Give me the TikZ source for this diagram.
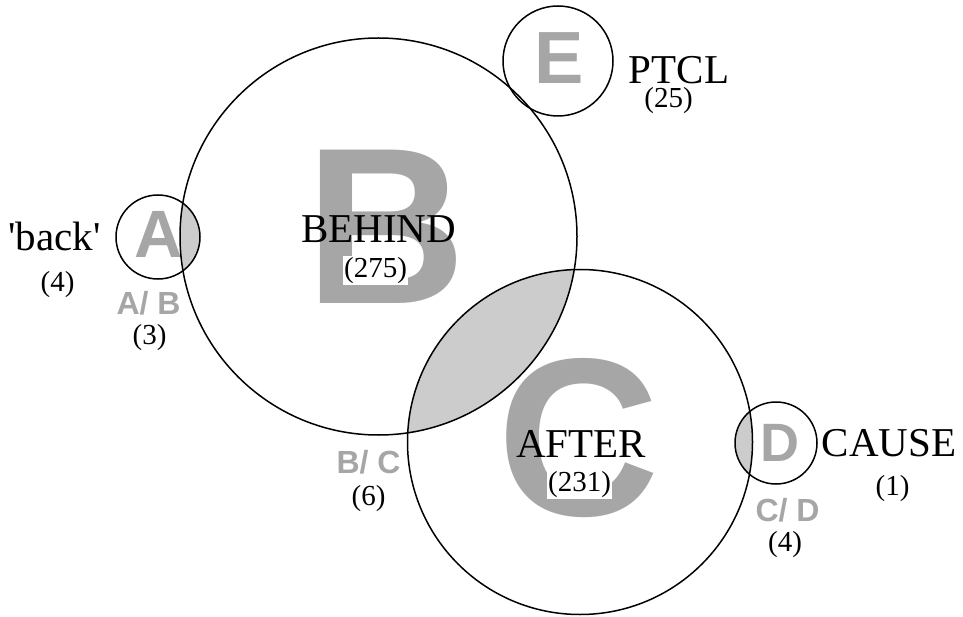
\documentclass[tikz,border=0pt]{standalone}
\usepackage{fontspec}
\setmainfont{Liberation Serif}[Ligatures=TeXOff]
\setsansfont{Liberation Sans}
\usetikzlibrary{backgrounds}

\definecolor{lettergray}{RGB}{166,166,166}
\definecolor{lensgray}{RGB}{204,204,204}

\tikzset{
  ring/.style={draw, circle, line width=1.5pt, inner sep=0pt},
  bigletter/.style={text=lettergray, inner sep=0pt,
    font=\sffamily\bfseries\fontsize{#1}{#1}\selectfont},
  word/.style={inner sep=0pt, font=\fontsize{41}{41}\selectfont},
  count/.style={inner sep=0pt, font=\fontsize{29}{29}\selectfont},
  pairlabel/.style={text=lettergray, inner sep=0pt,
    font=\sffamily\bfseries\fontsize{32}{32}\selectfont},
}

\begin{document}
\begin{tikzpicture}[x=1pt, y=-1pt]
    \useasboundingbox (0,0) rectangle (963,617);

    % Circles
    \node[ring, minimum size=84pt]  (circA) at (158,237) {};
    \node[ring, minimum size=397pt] (circB) at (378.5,236.5) {};
    \node[ring, minimum size=345pt] (circC) at (580,442) {};
    \node[ring, minimum size=82pt]  (circD) at (776,443) {};
    \node[ring, minimum size=110pt] (circE) at (558,61) {};

    \begin{scope}[on background layer]
      % Overlaps
      \begin{scope}
        \clip (circA.center) circle[radius=42pt];
        \fill[lensgray] (circB.center) circle[radius=198.5pt];
      \end{scope}
      \begin{scope}
        \clip (circB.center) circle[radius=198.5pt];
        \fill[lensgray] (circC.center) circle[radius=172.5pt];
      \end{scope}
      \begin{scope}
        \clip (circD.center) circle[radius=41pt];
        \fill[lensgray] (circC.center) circle[radius=172.5pt];
      \end{scope}

      % Big letters
      \node[bigletter=67]  (letA) at (158.5,234) {A};
      \node[bigletter=223] (letB) at (386.5,227) {B};
      \node[bigletter=225] (letC) at (579,438.5) {C};
      \node[bigletter=54]  (letD) at (780,442.5) {D};
      \node[bigletter=74]  (letE) at (559.5,58.5) {E};
    \end{scope}

    % Words and counts
    \node[word] (backW) at (54.5,236) {'back'};
    \node[count] (backN) at (57.5,285) {(4)};
    \node[word] (behindW) at (378.5,229) {BEHIND};
    \node[count, fill=white, inner sep=1pt] (behindN) at (375.5,270.5) {(275)};
    \node[word] (afterW) at (581,444) {AFTER};
    \node[count, fill=white, inner sep=1pt] (afterN) at (579.5,484.5) {(231)};
    \node[word] (causeW) at (889,443.5) {CAUSE};
    \node[count] (causeN) at (892.5,489) {(1)};
    \node[word] (ptclW) at (679,70) {PTCL};
    \node[count] (ptclN) at (668.5,100.5) {(25)};

    % Overlap labels
    \node[pairlabel] (abL) at (148.5,303.5) {A/ B};
    \node[count] (abN) at (149.5,338) {(3)};
    \node[pairlabel] (bcL) at (368.5,462.5) {B/ C};
    \node[count] (bcN) at (368.5,498.5) {(6)};
    \node[pairlabel] (cdL) at (787.5,510) {C/ D};
    \node[count] (cdN) at (785,545) {(4)};
\end{tikzpicture}
\end{document}
